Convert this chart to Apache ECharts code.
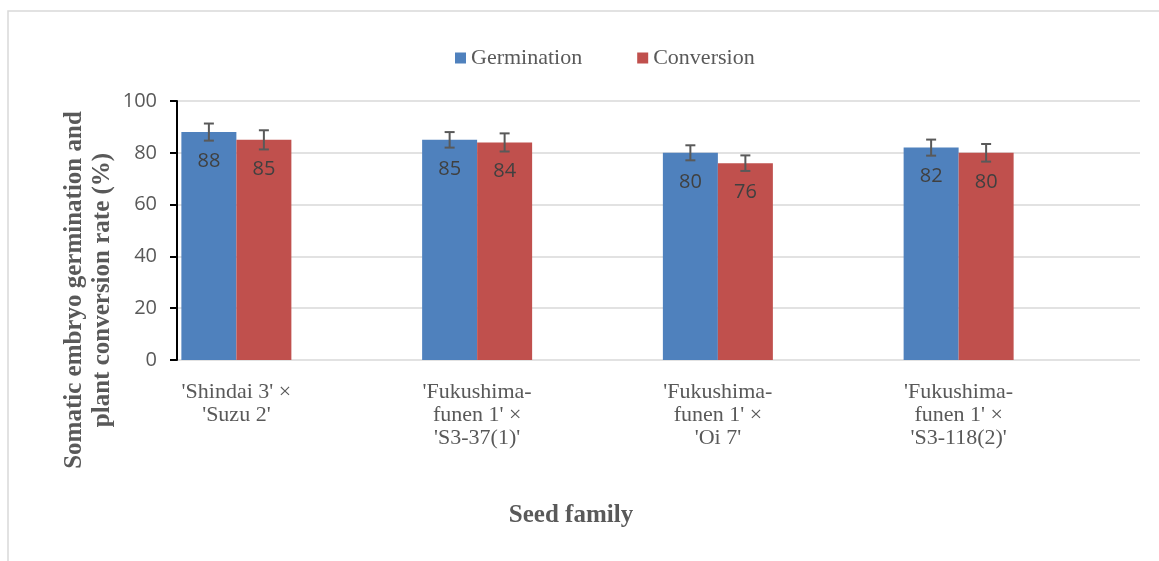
<!DOCTYPE html>
<html>
<head>
<meta charset="utf-8">
<script src="https://cdn.jsdelivr.net/npm/echarts@6/dist/echarts.min.js"></script>
<style>
  html, body { margin: 0; padding: 0; background: #fff; }
  #chart { width: 1159px; height: 561px; }
</style>
</head>
<body>
<div id="chart"></div>
<script>
"use strict";

// data
var categories = [
    "'Shindai 3' ×\n'Suzu 2'",
    "'Fukushima-\nfunen 1' ×\n'S3-37(1)'",
    "'Fukushima-\nfunen 1' ×\n'Oi 7'",
    "'Fukushima-\nfunen 1' ×\n'S3-118(2)'"
];
var germination = [88, 85, 80, 82];
var conversion = [85, 84, 76, 80];
var germinationErr = [3.3, 3.0, 2.9, 3.1];
var conversionErr = [3.7, 3.5, 3.0, 3.4];
var yMin = 0, yMax = 100, yStep = 20;

var blue = '#4F81BD';
var red = '#C0504D';
var serif = '"Liberation Serif", "Times New Roman", serif';
var sans = '"Open Sans", "Liberation Sans", sans-serif';

var barW = 55;

function errorBars(offset) {
    return function (params, api) {
        var i = api.value(0);
        var v = api.value(1);
        var e = api.value(2);
        var top = api.coord([i, v + e]);
        var bot = api.coord([i, v - e]);
        var cx = top[0] + offset;
        var st = { stroke: '#595959', lineWidth: 2 };
        return {
            type: 'group',
            children: [
                { type: 'line', shape: { x1: cx, y1: top[1], x2: cx, y2: bot[1] }, style: st },
                { type: 'line', shape: { x1: cx - 5, y1: top[1], x2: cx + 5, y2: top[1] }, style: st },
                { type: 'line', shape: { x1: cx - 5, y1: bot[1], x2: cx + 5, y2: bot[1] }, style: st }
            ]
        };
    };
}

function errData(vals, errs) {
    return vals.map(function (v, i) { return [i, v, errs[i]]; });
}

var dom = document.getElementById('chart');
var myChart = echarts.init(dom);

var labelStyle = {
    show: true,
    position: 'insideTop',
    distance: 19,
    color: '#404040',
    fontFamily: sans,
    fontSize: 20
};

var option = {
    animation: false,
    backgroundColor: '#fff',
    legend: {
        data: ['Germination', 'Conversion'],
        left: 450,
        top: 42,
        itemWidth: 11,
        itemHeight: 11,
        itemGap: 55,
        icon: 'rect',
        textStyle: { fontFamily: serif, fontSize: 22, color: '#595959' }
    },
    grid: [
        // visible axis / gridline frame
        { left: 177, top: 101, width: 963, height: 259 },
        // bars, shifted so the groups sit where the original has them
        { left: 116, top: 101, width: 963, height: 259 }
    ],
    xAxis: [
        { gridIndex: 0, type: 'value', show: false, min: 0, max: 1 },
        {
            gridIndex: 1,
            type: 'category',
            data: categories,
            axisLine: { show: false },
            axisTick: { show: false },
            axisLabel: {
                margin: 21,
                interval: 0,
                fontFamily: serif,
                fontSize: 22,
                lineHeight: 23,
                color: '#595959'
            }
        }
    ],
    yAxis: [
        {
            gridIndex: 0,
            type: 'value',
            min: yMin,
            max: yMax,
            interval: yStep,
            axisLine: { show: true, lineStyle: { color: '#000', width: 2 } },
            axisTick: { show: true, length: 7, lineStyle: { color: '#000', width: 2 } },
            axisLabel: { margin: 20, fontFamily: sans, fontSize: 20, color: '#595959' },
            splitLine: { show: true, lineStyle: { color: '#D9D9D9', width: 1.5 } }
        },
        { gridIndex: 1, type: 'value', show: false, min: yMin, max: yMax, splitLine: { show: false } }
    ],
    series: [
        {
            name: 'Germination',
            type: 'bar',
            xAxisIndex: 1,
            yAxisIndex: 1,
            barWidth: barW,
            barGap: '0%',
            data: germination,
            itemStyle: { color: blue },
            label: labelStyle
        },
        {
            name: 'Conversion',
            type: 'bar',
            xAxisIndex: 1,
            yAxisIndex: 1,
            barWidth: barW,
            barGap: '0%',
            data: conversion,
            itemStyle: { color: red },
            label: labelStyle
        },
        {
            type: 'custom',
            xAxisIndex: 1,
            yAxisIndex: 1,
            z: 5,
            renderItem: errorBars(-barW / 2),
            encode: { x: 0, y: 1 },
            data: errData(germination, germinationErr)
        },
        {
            type: 'custom',
            xAxisIndex: 1,
            yAxisIndex: 1,
            z: 5,
            renderItem: errorBars(barW / 2),
            encode: { x: 0, y: 1 },
            data: errData(conversion, conversionErr)
        }
    ],
    graphic: [
        {
            type: 'rect',
            shape: { x: 8, y: 11, width: 1300, height: 700 },
            style: { fill: 'none', stroke: '#D9D9D9', lineWidth: 1.5 },
            silent: true
        },
        {
            type: 'text',
            x: 89,
            y: 290,
            rotation: Math.PI / 2,
            style: {
                text: 'Somatic embryo germination and\nplant conversion rate (%)',
                textAlign: 'center',
                textVerticalAlign: 'middle',
                font: 'bold 25px ' + serif,
                lineHeight: 28,
                fill: '#595959'
            }
        },
        {
            type: 'text',
            x: 571,
            y: 516,
            style: {
                text: 'Seed family',
                textAlign: 'center',
                textVerticalAlign: 'middle',
                font: 'bold 25px ' + serif,
                fill: '#595959'
            }
        }
    ]
};

myChart.setOption(option);
</script>
</body>
</html>
